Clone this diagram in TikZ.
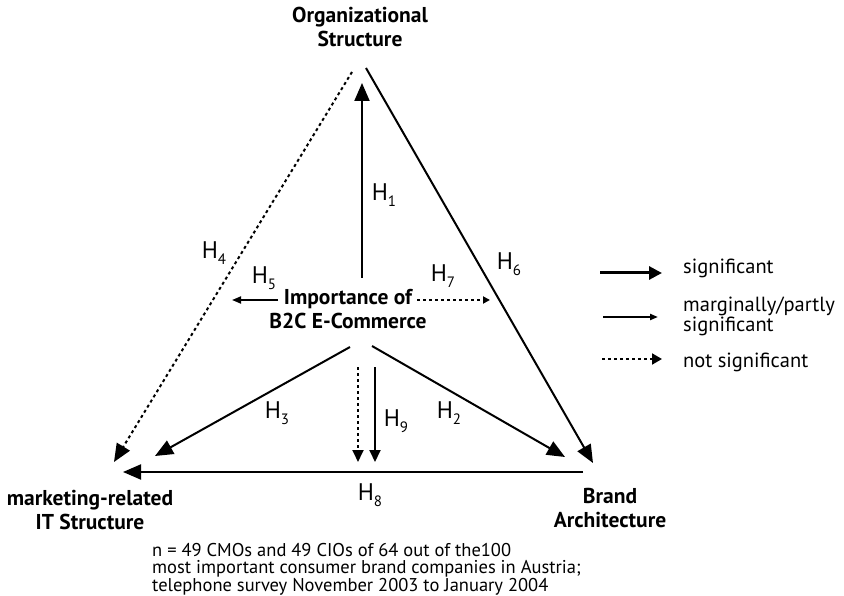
\documentclass[tikz,border=0pt]{standalone}
\usepackage{fontspec}
\setmainfont{PT Sans}
\usetikzlibrary{positioning}
\usetikzlibrary{arrows.meta}
\tikzset{
  sig/.style={line width=2pt,-{Triangle[length=18pt,width=15pt]}},
  marg/.style={line width=1.8pt,-{Triangle[length=9pt,width=7pt]}},
  nsig/.style={line width=2pt,dash pattern=on 3pt off 3pt,-{Triangle[length=18pt,width=15pt]}},
  concept/.style={font=\bfseries\fontsize{21.5}{24}\selectfont,align=center,inner sep=0pt},
  hyp/.style={font=\fontsize{24}{26}\selectfont,inner sep=0pt},
  legtext/.style={font=\fontsize{20.5}{17}\selectfont,align=left,anchor=west,inner sep=0pt},
}
\newcommand{\hlab}[1]{H\raisebox{-0.45ex}{\fontsize{15}{15}\selectfont#1}}
\begin{document}
\begin{tikzpicture}[x=1pt,y=-1pt]
        \useasboundingbox (0,0) rectangle (844,596);
        \node[concept] (org) at (360,27) {Organizational\\Structure};
        \node[concept] (mit) at (90,510) {marketing-related\\IT Structure};
        \node[concept] (brand) at (610,508) {Brand\\Architecture};
        \node[concept] (b2c) at (348,309) {Importance of\\B2C E-Commerce};

        \coordinate (topL) at (352,72);
        \coordinate (topR) at (366,68);
        \coordinate (top) at (362,83);
        \coordinate (midT) at (362,278);
        \coordinate (midL) at (278,300);
        \coordinate (midR) at (417,300);
        \coordinate (endL) at (232,300);
        \coordinate (endR) at (490,300);
        \coordinate (lowL) at (350,347);
        \coordinate (lowR) at (372,346);
        \coordinate (itL) at (114,462);
        \coordinate (itM) at (155,456);
        \coordinate (itB) at (123,472);
        \coordinate (baM) at (565,457);
        \coordinate (baR) at (593,463);
        \coordinate (baB) at (583,472);

        \draw[sig] (midT) -- (top);
        \draw[sig] (lowR) -- (baM);
        \draw[sig] (lowL) -- (itM);
        \draw[nsig] (topL) -- (itL);
        \draw[marg] (midL) -- (endL);
        \draw[sig] (topR) -- (baR);
        \draw[line width=1.8pt,dash pattern=on 3pt off 3pt,-{Triangle[length=7pt,width=7pt]}] (midR) -- (endR);
        \draw[sig] (baB) -- (itB);
        \draw[line width=1.8pt,dash pattern=on 3pt off 3pt,-{Triangle[length=12pt,width=11pt]}] (358,367) -- (358,462);
        \draw[line width=2pt,-{Triangle[length=12pt,width=11pt]}] (375,367) -- (375,462);

        \node[hyp] (h1) at (384,195) {\hlab{1}};
        \node[hyp] (h2) at (449,413) {\hlab{2}};
        \node[hyp] (h3) at (277,413) {\hlab{3}};
        \node[hyp] (h4) at (214,253) {\hlab{4}};
        \node[hyp] (h5) at (264,278) {\hlab{5}};
        \node[hyp] (h6) at (509,264) {\hlab{6}};
        \node[hyp] (h7) at (443,276) {\hlab{7}};
        \node[hyp] (h8) at (370,495) {\hlab{8}};
        \node[hyp] (h9) at (396,421) {\hlab{9}};

        \coordinate (s1) at (600,273);
        \coordinate (e1) at (662,273);
        \coordinate (s2) at (603,317);
        \coordinate (e2) at (658,317);
        \coordinate (s3) at (602,359);
        \coordinate (e3) at (662,359);
        \draw[line width=3pt,-{Triangle[length=13pt,width=13pt]}] (s1) -- (e1);
        \draw[line width=2pt,-{Triangle[length=8pt,width=6pt]}] (s2) -- (e2);
        \draw[line width=2pt,dash pattern=on 3pt off 3pt,-{Triangle[length=10pt,width=11pt]}] (s3) -- (e3);
        \node[legtext] (l1) at (683,268) {significant};
        \node[legtext] (l2) at (683,316) {marginally/partly\\significant};
        \node[legtext] (l3) at (683,362) {not significant};

        \node[font=\fontsize{18.5}{17.5}\selectfont,align=left,anchor=north west,inner sep=0pt] (note) at (152,543)
          {n = 49 CMOs and 49 CIOs of 64 out of the100\\most important consumer brand companies in Austria;\\telephone survey November 2003 to January 2004};
      \end{tikzpicture}
\end{document}
